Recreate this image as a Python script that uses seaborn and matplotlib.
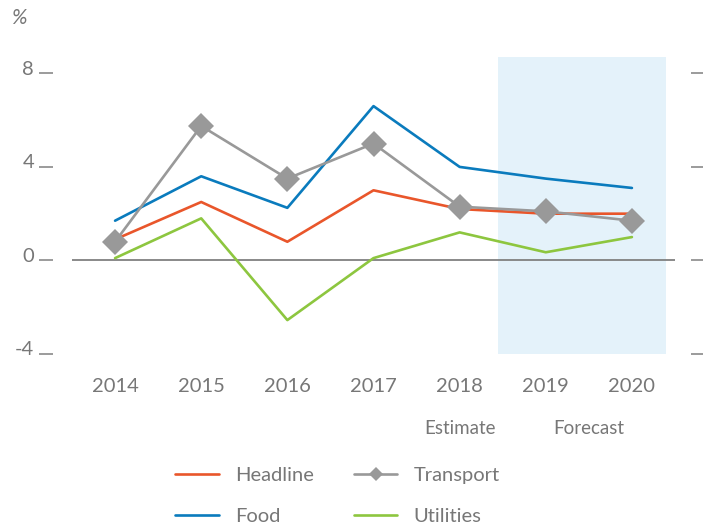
import matplotlib
matplotlib.use("Agg")
import matplotlib.pyplot as plt
import matplotlib.transforms as mtransforms
from matplotlib.lines import Line2D
import seaborn as sns
import pandas as pd

# Annual inflation components (%), 2018 estimate, 2019-2020 forecast
years = [2014, 2015, 2016, 2017, 2018, 2019, 2020]
headline = [0.9, 2.5, 0.8, 3.0, 2.2, 2.0, 2.0]
food = [1.7, 3.6, 2.25, 6.6, 4.0, 3.5, 3.1]
transport = [0.8, 5.75, 3.5, 5.0, 2.3, 2.1, 1.7]
utilities = [0.1, 1.8, -2.55, 0.1, 1.2, 0.35, 1.0]

series_names = ["Headline", "Food", "Transport", "Utilities"]
colors = {"Headline": "#e9562b", "Food": "#0a7bbd",
          "Transport": "#999999", "Utilities": "#8dc63f"}
forecast_span = (2018.45, 2020.4)
y_ticks = [-4, 0, 4, 8]

df = pd.DataFrame({
    "year": years * 4,
    "value": headline + food + transport + utilities,
    "series": sum([[n] * len(years) for n in series_names], []),
})

sns.set_theme(style="white")
plt.rcParams["font.family"] = ["Lato", "DejaVu Sans"]
text_color = "#777777"

fig = plt.figure(figsize=(7.03, 5.26), dpi=100)
ax = fig.add_axes([72 / 703, 1 - 354 / 526, (675 - 72) / 703, (354 - 57) / 526])

ax.axvspan(*forecast_span, color="#e4f2fa", lw=0, zorder=0)
ax.axhline(0, color="#808080", lw=1.3, zorder=1)

draw_order = ["Utilities", "Headline", "Food", "Transport"]
for z, name in enumerate(draw_order):
    sub = df[df["series"] == name]
    sns.lineplot(data=sub, x="year", y="value", ax=ax, color=colors[name],
                 lw=1.9, zorder=2 + z, legend=False,
                 marker="D" if name == "Transport" else None,
                 markersize=13, markeredgewidth=0,
                 markerfacecolor="#999999")

ax.set_xlim(2013.5, 2020.5)
ax.set_ylim(-4, 8.7)
ax.set_xlabel("")
ax.set_ylabel("")
ax.set_xticks(years)
ax.set_xticklabels([str(y) for y in years])
ax.set_yticks(y_ticks)
ax.set_yticklabels([str(t) for t in y_ticks])

for s in ax.spines.values():
    s.set_visible(False)
# detached tick marks on both sides (offsets in points)
ax.spines["left"].set_position(("outward", 13.7))
ax.spines["right"].set_position(("outward", 11.5))

ax.tick_params(axis="x", length=0, pad=17, labelsize=14.5, labelcolor=text_color)
ax.tick_params(axis="y", which="major", left=True, right=True, direction="out",
               length=10, width=1.1, color="#808080", pad=3.5,
               labelsize=14.5, labelcolor=text_color)

for lab in ax.get_yticklabels():
    lab.set_verticalalignment("baseline")
    lab.set_transform(lab.get_transform() +
                      mtransforms.ScaledTranslation(0, -1 / 72, fig.dpi_scale_trans))

ax.text(2018, -7.2, "Estimate", ha="center", va="center",
        fontsize=13.5, color=text_color)
ax.text(2019.5, -7.2, "Forecast", ha="center", va="center",
        fontsize=13.5, color=text_color)

fig.text(19 / 703, 1 - 18 / 526, "%", ha="center", va="center",
         fontsize=15, style="italic", color=text_color)

legend_order = ["Headline", "Food", "Transport", "Utilities"]
handles = []
for name in legend_order:
    if name == "Transport":
        h = Line2D([], [], color=colors[name], lw=1.9, marker="D",
                   markersize=7, markeredgewidth=0)
    else:
        h = Line2D([], [], color=colors[name], lw=1.9)
    handles.append(h)
fig.legend(handles, legend_order, ncol=2, frameon=False,
           loc="center", bbox_to_anchor=(0.48, 1 - 496 / 526),
           fontsize=14.5, labelcolor=text_color, handlelength=2.15,
           handletextpad=0.8, columnspacing=2.0, labelspacing=1.15)

fig.savefig("out.png", dpi=100)
